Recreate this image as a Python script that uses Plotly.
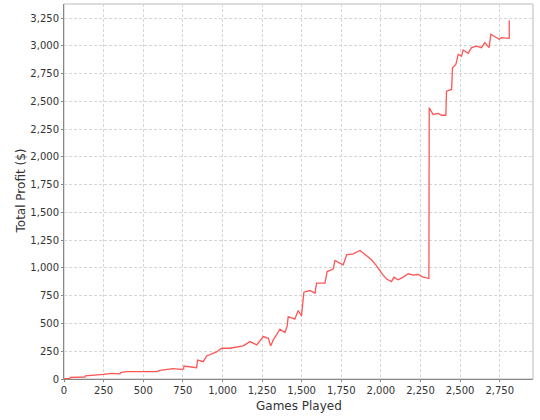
import plotly.graph_objects as go

games = [0, 38, 40, 132, 135, 246, 250, 300, 353, 358, 395, 480, 585, 606, 688, 742, 755, 757, 837, 843,
         879, 900, 942, 963, 995, 1047, 1131, 1174, 1216, 1258, 1290, 1304, 1321, 1363,
         1394, 1409, 1415, 1457, 1478, 1499, 1514, 1552, 1584, 1594, 1647, 1661, 1699,
         1710, 1741, 1762, 1784, 1825, 1868, 1899, 1941, 1973, 2004, 2036, 2067, 2082,
         2109, 2141, 2172, 2204, 2235, 2267, 2303, 2305, 2330, 2362, 2383, 2410, 2414,
         2446, 2452, 2473, 2488, 2509, 2519, 2551, 2572, 2604, 2635, 2656, 2683, 2694,
         2719, 2747, 2761, 2810, 2810]
profit = [3, 5, 15, 18, 28, 35, 42, 51, 47, 58, 66, 66, 66, 78, 93, 87, 90, 117, 102, 171,
          156, 207, 232, 244, 277, 277, 298, 337, 307, 382, 367, 298, 352, 448,
          418, 478, 562, 539, 617, 569, 782, 797, 773, 863, 863, 968, 990,
          1068, 1044, 1029, 1119, 1128, 1158, 1119, 1074, 1020, 954, 900, 878, 918,
          894, 918, 948, 936, 941, 918, 905, 2443, 2383, 2392, 2376, 2376, 2593,
          2608, 2804, 2834, 2924, 2909, 2963, 2933, 2985, 2999, 2985, 3030, 2985, 3105,
          3084, 3060, 3075, 3069, 3231]

x_ticks = list(range(0, 3000, 250))
y_ticks = list(range(0, 3500, 250))

fig = go.Figure()
fig.add_trace(go.Scatter(x=games, y=profit, mode="lines",
                         line=dict(color="#ff5555", width=1.3), showlegend=False))

font_family = "DejaVu Sans, Lucida Sans, sans-serif"
axis_common = dict(
    showgrid=True, gridcolor="#d6d6d6", griddash="3px,2px", gridwidth=1,
    zeroline=False, showline=True, linecolor="#888888", linewidth=1,
    ticks="outside", ticklen=2, tickcolor="#888888",
    tickfont=dict(family=font_family, size=10, color="#333333"),
    tickformat=",d", automargin=False,
)

fig.update_layout(
    width=540, height=420,
    margin=dict(l=64, r=7, t=4, b=41),
    paper_bgcolor="white", plot_bgcolor="white",
    font=dict(family=font_family, color="#333333"),
    xaxis=dict(range=[0, 2960], tickvals=x_ticks, **axis_common),
    yaxis=dict(range=[0, 3378], tickvals=y_ticks, **axis_common),
    shapes=[dict(type="rect", xref="paper", yref="paper", x0=0, y0=0, x1=1, y1=1,
                 line=dict(color="#bbbbbb", width=1), layer="below")],
    annotations=[
        dict(text="Games Played", xref="paper", yref="paper", x=0.5, y=-27 / 375,
             yanchor="middle", xanchor="center", showarrow=False,
             font=dict(size=12, color="#333333")),
        dict(text="Total Profit ($)", xref="paper", yref="paper", x=-44 / 469, y=0.5,
             xanchor="center", yanchor="middle", textangle=-90, showarrow=False,
             font=dict(size=12, color="#333333")),
    ],
)

fig.write_html("out.html", config={"displayModeBar": False},
               post_script="document.body.style.margin='0';")
